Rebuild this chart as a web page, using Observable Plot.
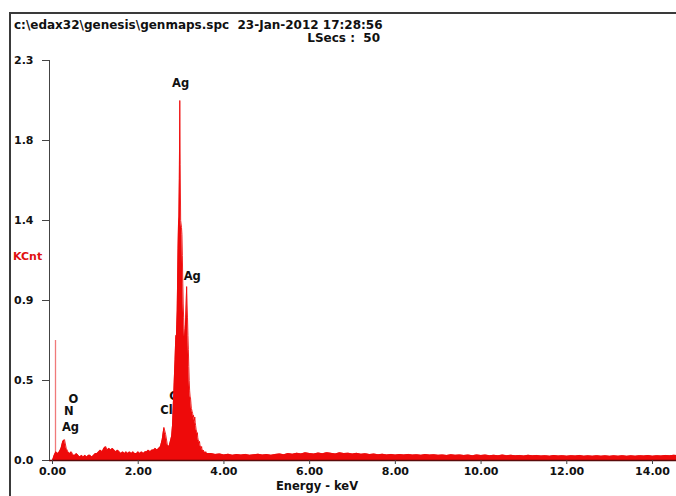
<!DOCTYPE html>
<html>
<head>
<meta charset="utf-8">
<script src="https://cdn.jsdelivr.net/npm/d3@7"></script>
<script src="https://cdn.jsdelivr.net/npm/@observablehq/plot@0.6"></script>
<style>
  html, body { margin: 0; padding: 0; background: #fff; }
  #wrap { position: relative; width: 676px; height: 496px; overflow: hidden; background: #fff;
          font-family: "DejaVu Sans", sans-serif; font-weight: bold; }
  #wrap svg { position: absolute; left: 0; top: 0; }
  .hl { position: absolute; background: #3a3a3a; }
  .txt { position: absolute; white-space: pre; font-size: 11px; color: #111; line-height: 1; }
</style>
</head>
<body>
<div id="wrap">
  <div class="hl" style="left:9px; top:12px; width:667px; height:2px;"></div>
  <div class="hl" style="left:9px; top:12px; width:2px; height:484px;"></div>
  <div class="txt" id="hdr1" style="left:14px; top:19px; font-size:12px;">c:\edax32\genesis\genmaps.spc  23-Jan-2012 17:28:56</div>
  <div class="txt" id="hdr2" style="right:296px; top:32px; font-size:12px;">LSecs :  50</div>
  <div class="txt" id="ylab" style="left:13px; top:251px; color:#e01010;">KCnt</div>
  <div class="txt" id="xlab" style="left:276px; top:481px; font-size:11.5px;">Energy - keV</div>
</div>
<script>
// ---- Spectrum data (KCnt) ----
// Segment A: 0.00 .. 2.76 keV, channel step 0.04
const segAStart = 0.00, segAStep = 0.04;
const segACounts = [
  0.00, 0.03, 0.05, 0.04, 0.05, 0.07, 0.11, 0.12, 0.07, 0.05,
  0.04, 0.05, 0.03, 0.03, 0.04, 0.03, 0.02, 0.03, 0.02, 0.03,
  0.02, 0.03, 0.03, 0.02, 0.03, 0.04, 0.04, 0.05, 0.06, 0.05,
  0.07, 0.08, 0.06, 0.07, 0.06, 0.07, 0.06, 0.05, 0.06, 0.05,
  0.04, 0.05, 0.04, 0.05, 0.04, 0.05, 0.04, 0.05, 0.04, 0.04,
  0.05, 0.04, 0.05, 0.04, 0.05, 0.05, 0.06, 0.05, 0.06, 0.06,
  0.07, 0.06, 0.07, 0.08, 0.12, 0.19, 0.15, 0.09, 0.08, 0.12
];
// Segment B: 2.78 .. 3.60 keV, channel step 0.01 (Ag L lines)
const segBStart = 2.78, segBStep = 0.01;
const segBCounts = [
  0.14, 0.17, 0.20, 0.26, 0.33, 0.38, 0.45, 0.52, 0.58, 0.66,
  0.72, 0.70, 0.78, 0.86, 1.05, 1.22, 1.36, 1.40, 1.62, 2.07,
  1.70, 1.38, 1.36, 1.34, 1.30, 1.18, 1.02, 0.90, 0.82, 0.76,
  0.71, 0.72, 0.76, 0.82, 0.90, 1.00, 0.90, 0.82, 0.72, 0.64,
  0.54, 0.46, 0.40, 0.37, 0.36, 0.33, 0.30, 0.29, 0.28, 0.27,
  0.25, 0.26, 0.24, 0.23, 0.25, 0.22, 0.20, 0.18, 0.17, 0.15,
  0.16, 0.13, 0.12, 0.11, 0.10, 0.11, 0.09, 0.08, 0.08, 0.07,
  0.08, 0.06, 0.06, 0.05, 0.06, 0.05, 0.05, 0.04, 0.05, 0.04,
  0.05, 0.04, 0.04
];
// Segment C: 3.70 .. 14.60 keV, channel step 0.10
const segCStart = 3.70, segCStep = 0.10;
const segCCounts = [
  0.040, 0.035, 0.038, 0.032, 0.036, 0.030, 0.034, 0.031, 0.035, 0.030,
  0.033, 0.036, 0.031, 0.034, 0.030, 0.035, 0.038, 0.033, 0.040, 0.036,
  0.042, 0.038, 0.044, 0.040, 0.037, 0.043, 0.039, 0.045, 0.041, 0.038,
  0.044, 0.040, 0.042, 0.037, 0.041, 0.036, 0.039, 0.034, 0.037, 0.033,
  0.036, 0.032, 0.035, 0.031, 0.034, 0.032, 0.035, 0.031, 0.033, 0.030,
  0.034, 0.031, 0.033, 0.030, 0.032, 0.029, 0.033, 0.030, 0.032, 0.029,
  0.031, 0.028, 0.032, 0.029, 0.031, 0.028, 0.030, 0.027, 0.031, 0.028,
  0.030, 0.027, 0.029, 0.026, 0.030, 0.027, 0.029, 0.026, 0.028, 0.025,
  0.029, 0.026, 0.028, 0.025, 0.028, 0.026, 0.029, 0.025, 0.027, 0.025,
  0.028, 0.025, 0.027, 0.024, 0.027, 0.025, 0.028, 0.024, 0.027, 0.025,
  0.028, 0.026, 0.029, 0.025, 0.028, 0.026, 0.029, 0.027, 0.030, 0.028
];
// Zero-strobe / noise line near 0 keV
const noiseE = [0.07];
const noiseCounts = [0.69];

// Peak labels
const peakLabels = ["Ag", "Ag", "Cl", "Cl", "O", "N", "Ag"];
const peakLabelE = [2.99, 3.26, 2.87, 2.66, 0.49, 0.38, 0.42];
const peakLabelY = [2.17, 1.06, 0.37, 0.29, 0.35, 0.28, 0.19];
const peakLabelUnder = [false, false, true, false, false, false, false];

// Axis ticks
const xTicks = [0, 2, 4, 6, 8, 10, 12, 14];
const xTickLabels = ["0.00", "2.00", "4.00", "6.00", "8.00", "10.00", "12.00", "14.00"];
const yTicks = [0, 0.46, 0.92, 1.38, 1.84, 2.3];
const yTickLabels = ["0.0", "0.5", "0.9", "1.4", "1.8", "2.3"];

// ---- build table ----
const spectrum = [];
const addSeg = (start, step, counts) => counts.forEach((v, i) =>
  spectrum.push({e: Math.round((start + i * step) * 1000) / 1000, v}));
addSeg(segAStart, segAStep, segACounts);
addSeg(segBStart, segBStep, segBCounts);
addSeg(segCStart, segCStep, segCCounts);

const noise = noiseE.map((e, i) => ({e, v: noiseCounts[i]}));
const labels = peakLabels.map((t, i) => ({t, e: peakLabelE[i], v: peakLabelY[i], under: peakLabelUnder[i]}));

const red = "#ee0a0a";
const chart = Plot.plot({
  width: 676,
  height: 496,
  marginLeft: 49,
  marginRight: 0,
  marginTop: 60,
  marginBottom: 36,
  style: {fontFamily: "DejaVu Sans, sans-serif", fontWeight: "bold", fontSize: "11px", color: "#111", background: "transparent"},
  x: {domain: [-0.07, 14.56]},
  y: {domain: [0, 2.3]},
  marks: [
    Plot.text(labels.filter(d => d.under), {x: "e", y: "v", text: "t", fontSize: 11.5, fill: "#111"}),
    Plot.ruleX(noise, {x: "e", y1: 0, y2: "v", stroke: "#f07a7a", strokeWidth: 1.3}),
    Plot.areaY(spectrum, {x: "e", y: "v", fill: red, curve: "linear"}),
    Plot.lineY(spectrum, {x: "e", y: "v", stroke: red, strokeWidth: 0.9, curve: "linear"}),
    Plot.ruleY([0], {stroke: "#5a0a0a", strokeWidth: 1.6}),
    Plot.ruleX([-0.07], {y1: 0, y2: 2.3, stroke: "#444", strokeWidth: 1}),
    Plot.axisY({ticks: yTicks, tickFormat: (d, i) => yTickLabels[i], tickSize: 7, tickPadding: 9, label: null, stroke: "#444"}),
    Plot.axisX({ticks: xTicks, tickFormat: (d, i) => xTickLabels[i], tickSize: 4, tickPadding: 3, label: null, stroke: "#444"}),
    Plot.text(labels.filter(d => !d.under), {x: "e", y: "v", text: "t", fontSize: 11.5, fill: "#111"})
  ]
});
document.getElementById("wrap").appendChild(chart);
</script>
</body>
</html>
